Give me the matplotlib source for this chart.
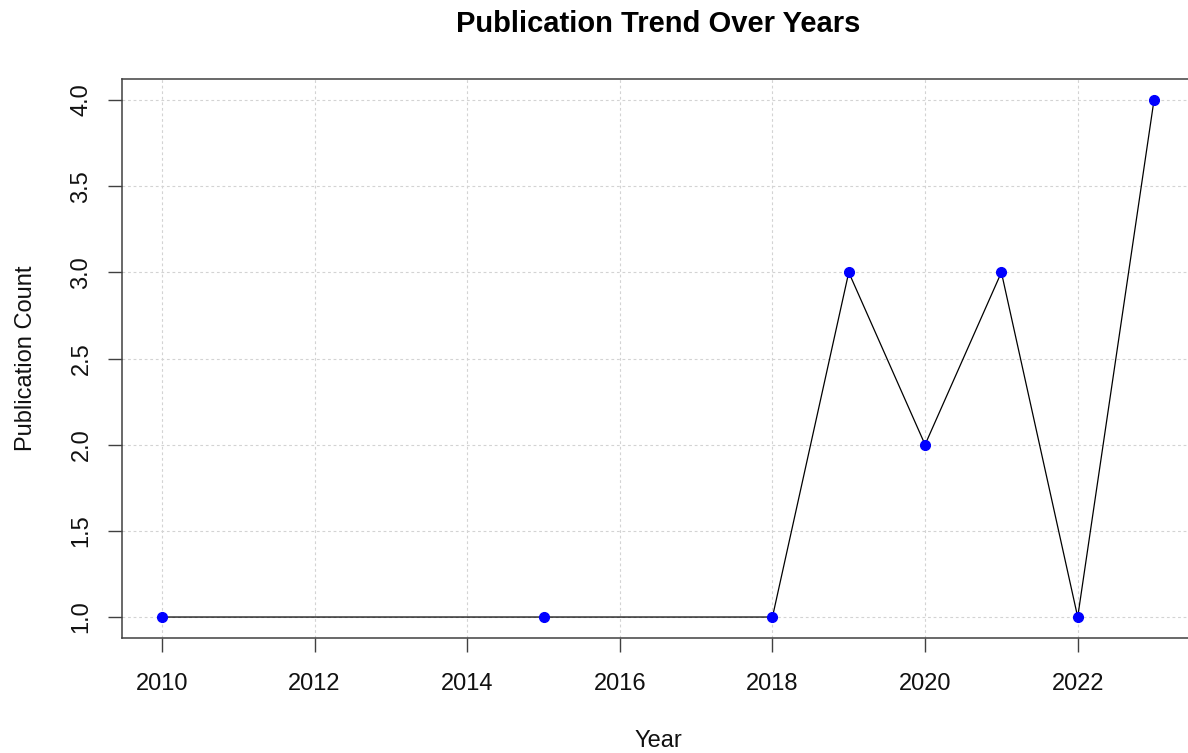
import matplotlib.pyplot as plt

years = [2010, 2015, 2018, 2019, 2020, 2021, 2022, 2023]
counts = [1, 1, 1, 3, 2, 3, 1, 4]
x_ticks = [2010, 2012, 2014, 2016, 2018, 2020, 2022]
y_ticks = [1.0, 1.5, 2.0, 2.5, 3.0, 3.5, 4.0]

plt.rcParams['font.family'] = ['Liberation Sans', 'DejaVu Sans']

fig = plt.figure(figsize=(11.88, 7.53), dpi=100)
ax = fig.add_axes([0.1029, 0.1531, 0.9019, 0.7416])

# R-style 4% padding on both axes
xr = max(years) - min(years)
yr = max(counts) - min(counts)
ax.set_xlim(min(years) - 0.04 * xr, max(years) + 0.04 * xr)
ax.set_ylim(min(counts) - 0.04 * yr, max(counts) + 0.04 * yr)

ax.set_xticks(x_ticks)
ax.set_yticks(y_ticks)
ax.set_yticklabels([f'{v:.1f}' for v in y_ticks], rotation=90, va='center')
ax.grid(True, color='#d3d3d3', linestyle=(0, (2.5, 2.5)), linewidth=0.8)
ax.set_axisbelow(True)

ax.plot(years, counts, color='black', linewidth=0.9, zorder=3)
ax.plot(years, counts, 'o', color='blue', markersize=7, zorder=4)

for s in ax.spines.values():
    s.set_color('#404040')
    s.set_linewidth(1.1)
ax.tick_params(axis='x', direction='out', length=10.4, width=1, colors='#404040',
               labelsize=17, labelcolor='#111111', pad=15)
ax.tick_params(axis='y', direction='out', length=10.4, width=1, colors='#404040',
               labelsize=17, labelcolor='#111111', pad=11)

ax.set_title('Publication Trend Over Years', fontsize=21, fontweight='bold', pad=34)
ax.set_xlabel('Year', fontsize=17, labelpad=25.5, color='#111111')
ax.set_ylabel('Publication Count', fontsize=17, labelpad=24, color='#111111')

fig.savefig('out.png', dpi=100)
